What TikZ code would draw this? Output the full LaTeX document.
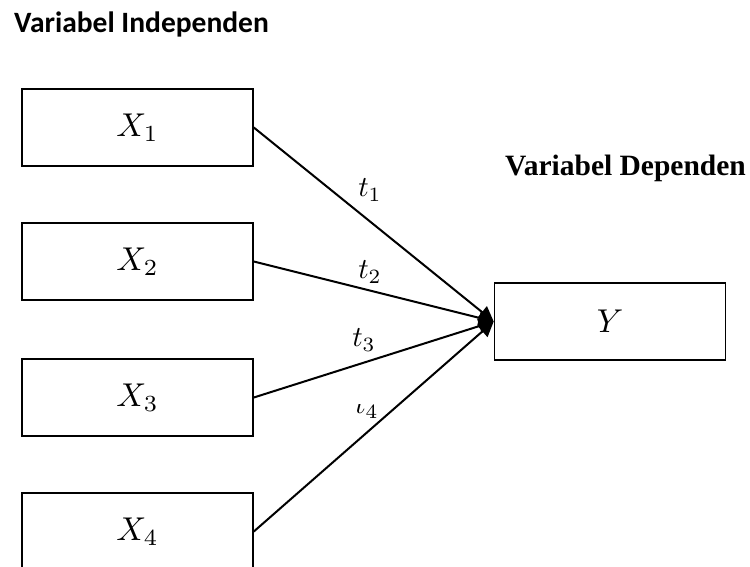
\documentclass[tikz,border=0pt]{standalone}
\usepackage{graphicx}
\usepackage{fontspec}
\newfontfamily\headsans{Carlito}
\newfontfamily\headserif{Liberation Serif}
\usetikzlibrary{arrows.meta}

\newcommand{\bigmath}[2]{\scalebox{#1}{$#2$}}

\tikzset{
  varbox/.style={draw, line width=1.6pt, minimum width=231pt, minimum height=77pt,
                 inner sep=0pt},
  link/.style={line width=2pt, -{Triangle[length=15pt,width=15pt]}},
  coef/.style={inner sep=0pt},
  heading/.style={anchor=base west, inner sep=0pt}
}

\begin{document}
\begin{tikzpicture}[x=1pt, y=-1pt]
  \useasboundingbox (0,0) rectangle (750,566);
  \clip (0,0) rectangle (750,566);

  % headings
  \node[heading, font=\headsans\bfseries\fontsize{29.5}{35}\selectfont] (hind) at (14,32) {Variabel Independen};
  \node[heading, font=\headserif\bfseries\fontsize{29.5}{35}\selectfont] (hdep) at (505,175) {Variabel Dependen};

  % independent variables
  \node[varbox] (x1) at (137.5,127.5) {\bigmath{3.3}{X_1}};
  \node[varbox] (x2) at (137.5,261.5) {\bigmath{3.3}{X_2}};
  \node[varbox] (x3) at (137.5,397.5) {\bigmath{3.3}{X_3}};
  \node[varbox] (x4) at (137.5,531.5) {\bigmath{3.3}{X_4}};

  % dependent variable
  \node[varbox] (y) at (610,321.5) {\bigmath{3.3}{Y}};

  % regression paths
  \draw[link] (x1.east) -- (y.west);
  \draw[link] (x2.east) -- (y.west);
  \draw[link] (x3.east) -- (y.west);
  \draw[link] (x4.east) -- (y.west);

  % coefficient labels
  \node[coef] (t1) at (370,190) {\bigmath{2.9}{t_1}};
  \node[coef] (t2) at (370,272) {\bigmath{2.9}{t_2}};
  \node[coef] (t3) at (364,340) {\bigmath{2.9}{t_3}};
  \begin{scope}
    \clip (330,404) rectangle (410,430);
    \node[coef] (t4) at (367,407) {\bigmath{2.9}{t_4}};
  \end{scope}
\end{tikzpicture}
\end{document}
